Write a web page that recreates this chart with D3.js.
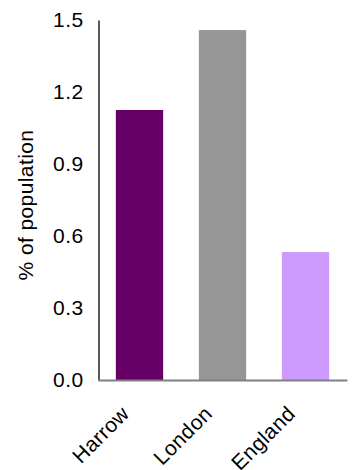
<!DOCTYPE html>
<html><head><meta charset="utf-8">
<script src="https://cdn.jsdelivr.net/npm/d3@7"></script>
<style>body{margin:0;background:#fff}svg{display:block}text{font-family:"Liberation Sans",Arial,sans-serif}</style>
</head><body>
<svg id="c" width="355" height="470"></svg>
<script>
const categories = ["Harrow", "London", "England"];
const values = [1.125, 1.458, 0.533];
const colors = ["#660066", "#969696", "#cc99ff"];
const yTicks = [0.0, 0.3, 0.6, 0.9, 1.2, 1.5];

const svg = d3.select("#c");
const x = d3.scaleBand().domain(categories).range([98, 347]).paddingInner(0.43).paddingOuter(0.215);
const y = d3.scaleLinear().domain([0, 1.5]).range([380, 20]);

svg.selectAll("rect.bar").data(values).enter().append("rect")
  .attr("class", "bar")
  .attr("x", (d, i) => x(categories[i]))
  .attr("width", x.bandwidth())
  .attr("y", d => y(d))
  .attr("height", d => y(0) - y(d))
  .attr("fill", (d, i) => colors[i]);

const yAxis = svg.append("g").attr("transform", "translate(98.5,0)")
  .call(d3.axisLeft(y).tickValues(yTicks).tickFormat(d3.format(".1f")).tickSize(0).tickPadding(15));
yAxis.select(".domain").attr("stroke", "#000").attr("stroke-width", 1.3);
yAxis.selectAll("text").style("font-size", "21px").style("letter-spacing", "0.4px").attr("fill", "#000");

const xAxis = svg.append("g").attr("transform", "translate(0,380)")
  .call(d3.axisBottom(x).tickSize(0).tickPadding(0));
xAxis.select(".domain").attr("stroke", "#808080").attr("stroke-width", 2);
xAxis.selectAll("text")
  .style("font-size", "21px").style("letter-spacing", "0.4px").attr("fill", "#000")
  .attr("text-anchor", "end").attr("dy", null).attr("y", 0)
  .attr("transform", "translate(-9,35) rotate(-45)");

svg.append("text")
  .attr("transform", "translate(26,205) rotate(-90)")
  .attr("text-anchor", "middle").style("font-size", "21px").style("letter-spacing", "0.4px").attr("dy", "0.35em")
  .text("% of population");
</script>
</body></html>
